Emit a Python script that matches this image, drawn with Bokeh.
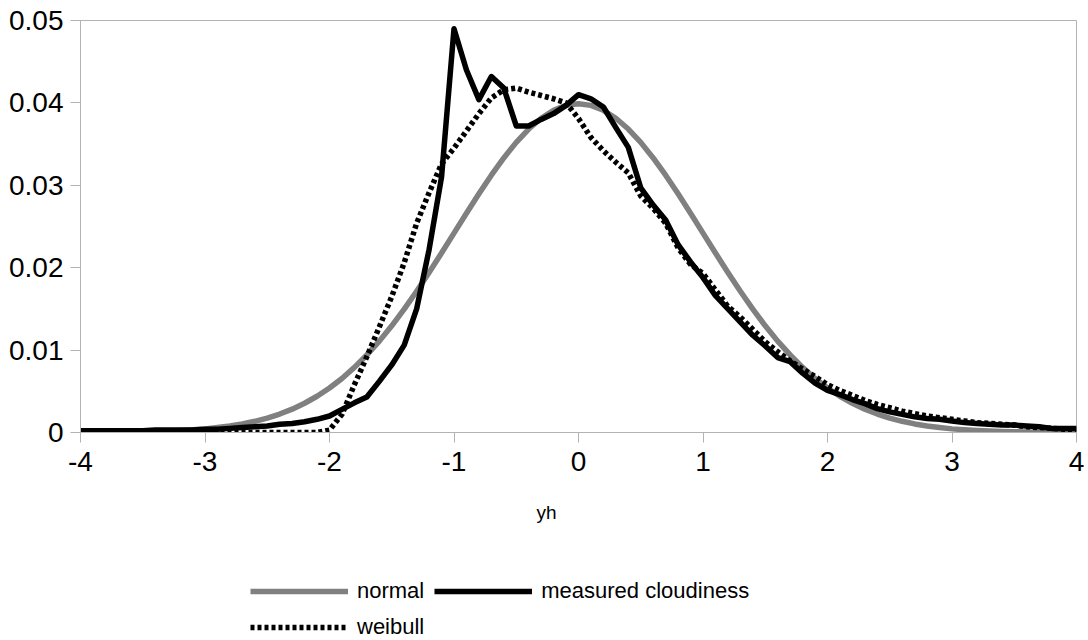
from bokeh.plotting import figure
from bokeh.layouts import column
from bokeh.models import (Legend, LegendItem, FixedTicker, CustomJSTickFormatter,
                          Label, Range1d)
from bokeh.embed import file_html
from bokeh.resources import INLINE

# x grid (yh), step 0.1 from -4 to 4
yh = [round(-4 + i * 0.1, 1) for i in range(81)]

normal = [
    0.00001, 0.00002, 0.00003, 0.00004, 0.00006, 0.00009, 0.00012, 0.00017, 0.00024, 0.00033,
    0.00044, 0.00060, 0.00079, 0.00104, 0.00136, 0.00175, 0.00224, 0.00283, 0.00355, 0.00440,
    0.00540, 0.00656, 0.00790, 0.00941, 0.01109, 0.01295, 0.01497, 0.01714, 0.01942, 0.02179,
    0.02420, 0.02661, 0.02897, 0.03123, 0.03332, 0.03521, 0.03683, 0.03814, 0.03910, 0.03970,
    0.03989,
    0.03970, 0.03910, 0.03814, 0.03683, 0.03521, 0.03332, 0.03123, 0.02897, 0.02661, 0.02420,
    0.02179, 0.01942, 0.01714, 0.01497, 0.01295, 0.01109, 0.00941, 0.00790, 0.00656, 0.00540,
    0.00440, 0.00355, 0.00283, 0.00224, 0.00175, 0.00136, 0.00104, 0.00079, 0.00060, 0.00044,
    0.00033, 0.00024, 0.00017, 0.00012, 0.00009, 0.00006, 0.00004, 0.00003, 0.00002, 0.00001,
]

measured = [
    0.0002, 0.0002, 0.0002, 0.0002, 0.0002, 0.0002, 0.0003, 0.0003, 0.0003, 0.0003,
    0.0004, 0.0004, 0.0005, 0.0006, 0.0007, 0.0008, 0.0010, 0.0011, 0.0013, 0.0016,
    0.0020, 0.0028, 0.0036, 0.0043, 0.0062, 0.0082, 0.0106, 0.0150, 0.0222, 0.0310,
    0.0490, 0.0440, 0.0404, 0.0432, 0.0418, 0.0372, 0.0372, 0.0380, 0.0387, 0.0397,
    0.0410,
    0.0405, 0.0395, 0.0370, 0.0346, 0.0297, 0.0276, 0.0258, 0.0228, 0.0207, 0.0188,
    0.0166, 0.0150, 0.0134, 0.0118, 0.0105, 0.0091, 0.0086, 0.0072, 0.0060, 0.0051,
    0.0046, 0.0040, 0.0035, 0.0029, 0.0025, 0.0022, 0.0019, 0.0017, 0.0016, 0.0014,
    0.0012, 0.0011, 0.0010, 0.0009, 0.0009, 0.0008, 0.0007, 0.0005, 0.0005, 0.0005,
]

weibull = [
    0.0000, 0.0000, 0.0000, 0.0000, 0.0000, 0.0000, 0.0000, 0.0000, 0.0000, 0.0000,
    0.0000, 0.0000, 0.0000, 0.0000, 0.0000, 0.0000, 0.0000, 0.0000, 0.0000, 0.0000,
    0.0003, 0.0022, 0.0058, 0.0092, 0.0128, 0.0165, 0.0206, 0.0254, 0.0291, 0.0326,
    0.0345, 0.0366, 0.0387, 0.0406, 0.0416, 0.0418, 0.0413, 0.0409, 0.0405, 0.0400,
    0.0381,
    0.0358, 0.0342, 0.0328, 0.0315, 0.0287, 0.0272, 0.0254, 0.0224, 0.0204, 0.0193,
    0.0173, 0.0153, 0.0140, 0.0125, 0.0110, 0.0098, 0.0087, 0.0077, 0.0068, 0.0058,
    0.0051, 0.0045, 0.0039, 0.0034, 0.0030, 0.0026, 0.0023, 0.0020, 0.0018, 0.0016,
    0.0014, 0.0012, 0.0011, 0.0010, 0.0009, 0.0007, 0.0006, 0.0005, 0.0004, 0.0004,
]

series_names = ["normal", "measured cloudiness", "weibull"]
x_ticks = [-4, -3, -2, -1, 0, 1, 2, 3, 4]
y_ticks = [0, 0.01, 0.02, 0.03, 0.04, 0.05]
x_title = "yh"

FONT = "Liberation Sans"
AXIS_GRAY = "#b3b3b3"
STYLES = [
    dict(line_color="#808080", line_width=5.5, line_join="round"),
    dict(line_color="black", line_width=5.5, line_join="round"),
    dict(line_color="black", line_width=5.5, line_dash="4 3"),
]
SERIES = [normal, measured, weibull]

# ---------------- main chart ----------------
p = figure(width=1088, height=490, output_backend="svg", toolbar_location=None,
           x_range=Range1d(-4, 4), y_range=Range1d(0, 0.05),
           min_border_left=80, min_border_right=12, min_border_top=20,
           min_border_bottom=58)
p.xgrid.visible = False
p.ygrid.visible = False
p.outline_line_color = AXIS_GRAY
p.outline_line_width = 1

for ys, st in zip(SERIES, STYLES):
    p.line(yh, ys, **st)

for ax in (p.xaxis[0], p.yaxis[0]):
    ax.axis_line_color = AXIS_GRAY
    ax.major_tick_line_color = AXIS_GRAY
    ax.major_tick_out = 10
    ax.major_tick_in = 0
    ax.minor_tick_line_color = None
    ax.major_label_text_font = FONT
    ax.major_label_text_font_size = "28px"
    ax.major_label_text_color = "black"
p.xaxis.major_label_standoff = 9
p.yaxis.major_label_standoff = 7

p.xaxis.ticker = FixedTicker(ticks=x_ticks)
p.yaxis.ticker = FixedTicker(ticks=y_ticks)
p.xaxis.formatter = CustomJSTickFormatter(code="return tick.toFixed(0);")
p.yaxis.formatter = CustomJSTickFormatter(code="return tick === 0 ? '0' : tick.toFixed(2);")

# ---------------- axis title + legend strip ----------------
# same series drawn again, but the y range keeps them out of view: they only
# feed the legend glyphs.
q = figure(width=1088, height=150, output_backend="svg", toolbar_location=None,
           x_range=Range1d(-4, 4), y_range=Range1d(1, 2),
           x_axis_type=None, y_axis_type=None,
           min_border_left=0, min_border_right=0, min_border_top=0, min_border_bottom=0)
q.xgrid.visible = False
q.ygrid.visible = False
q.outline_line_color = None

legend_renderers = [q.line(yh, ys, **st) for ys, st in zip(SERIES, STYLES)]

# the strip's frame turns out aligned with the chart's frame (left edge at 80px)
FRAME_LEFT = 80
q.add_layout(Label(x=546 - FRAME_LEFT, y=128, x_units="screen", y_units="screen",
                   text=x_title, text_font=FONT, text_font_size="19px",
                   text_align="center", text_baseline="middle", text_color="black"))

legend = Legend(items=[LegendItem(label=n, renderers=[r])
                       for n, r in zip(series_names, legend_renderers)],
                location=(250 - FRAME_LEFT, 0), orientation="horizontal", ncols=2,
                border_line_color=None, background_fill_alpha=0,
                padding=0, margin=0, glyph_width=98, glyph_height=24,
                label_height=24, label_standoff=9, spacing=10,
                label_text_font=FONT, label_text_font_size="22px",
                label_text_color="black")
q.add_layout(legend)

layout = column(p, q, spacing=0)
open("out.html", "w").write(file_html(layout, INLINE))
